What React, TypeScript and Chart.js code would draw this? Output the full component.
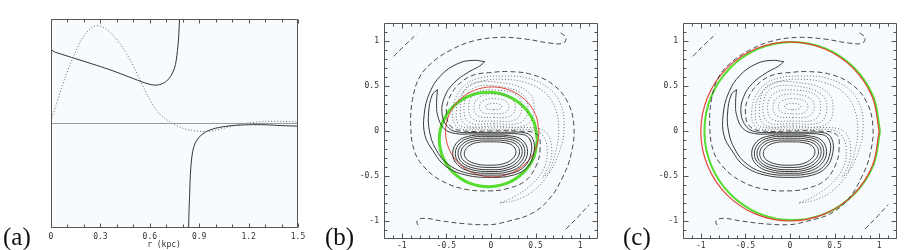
import React, { useEffect, useRef } from "react";
import { Chart, registerables } from "chart.js";

Chart.register(...registerables);

// ---------- Panel (a) data ----------
const A_X_TICKS = [0, 0.3, 0.6, 0.9, 1.2, 1.5];
const A_X_LABELS = ["0", "0.3", "0.6", "0.9", "1.2", "1.5"];
const A_X_MINOR = [0.1, 0.2, 0.4, 0.5, 0.7, 0.8, 1.0, 1.1, 1.3, 1.4];

const SOLID1_R = [0, 0.01, 0.03, 0.1, 0.2, 0.3, 0.4, 0.5, 0.55, 0.6, 0.63, 0.66, 0.69, 0.71, 0.73, 0.75, 0.76, 0.768, 0.775, 0.782];
const SOLID1_V = [0.72, 0.695, 0.68, 0.645, 0.595, 0.545, 0.49, 0.43, 0.4, 0.375, 0.367, 0.372, 0.392, 0.42, 0.46, 0.53, 0.6, 0.7, 0.82, 1.05];

const SOLID2_R = [0.835, 0.838, 0.842, 0.846, 0.852, 0.86, 0.875, 0.9, 0.93, 0.96, 1.0, 1.05, 1.1, 1.2, 1.3, 1.4, 1.5];
const SOLID2_V = [-1.05, -0.85, -0.68, -0.5, -0.37, -0.27, -0.19, -0.13, -0.09, -0.065, -0.045, -0.03, -0.02, -0.012, -0.012, -0.02, -0.025];

const DOTTED_R = [0, 0.03, 0.06, 0.09, 0.12, 0.15, 0.18, 0.21, 0.24, 0.27, 0.3, 0.33, 0.36, 0.39, 0.42, 0.45, 0.48, 0.51, 0.54, 0.57, 0.6, 0.63, 0.66, 0.69, 0.72, 0.75, 0.8, 0.85, 0.9, 0.95, 1.0, 1.05, 1.1, 1.15, 1.2, 1.3, 1.4, 1.5];
const DOTTED_V = [0.03, 0.17, 0.32, 0.46, 0.58, 0.69, 0.79, 0.86, 0.91, 0.935, 0.93, 0.91, 0.87, 0.82, 0.76, 0.69, 0.61, 0.52, 0.42, 0.32, 0.23, 0.15, 0.09, 0.05, 0.02, -0.01, -0.045, -0.065, -0.075, -0.075, -0.065, -0.045, -0.025, -0.01, 0.005, 0.02, 0.02, 0.015];

const ZERO_R = [0, 1.5];
const ZERO_V = [0, 0];

// ---------- Panels (b), (c) data ----------
const XY_TICKS = [-1, -0.5, 0, 0.5, 1];
const XY_MINOR = [-1.1, -0.9, -0.8, -0.7, -0.6, -0.4, -0.3, -0.2, -0.1, 0.1, 0.2, 0.3, 0.4, 0.6, 0.7, 0.8, 0.9, 1.1];

type P = [number, number];

const SOLID_S1: P[] = [[-0.01, -0.12], [-0.155, -0.128], [-0.26, -0.175], [-0.3, -0.25], [-0.265, -0.32], [-0.155, -0.368], [-0.01, -0.38], [0.135, -0.365], [0.24, -0.31], [0.28, -0.23], [0.24, -0.16], [0.135, -0.127], [-0.01, -0.12]];
const SOLID_S2: P[] = [[-0.01, -0.1], [-0.175, -0.108], [-0.295, -0.16], [-0.34, -0.25], [-0.3, -0.335], [-0.175, -0.39], [-0.01, -0.405], [0.155, -0.39], [0.275, -0.325], [0.32, -0.23], [0.275, -0.145], [0.155, -0.107], [-0.01, -0.1]];
const SOLID_S3: P[] = [[-0.01, -0.08], [-0.19, -0.088], [-0.32, -0.145], [-0.37, -0.25], [-0.325, -0.35], [-0.19, -0.413], [-0.01, -0.43], [0.17, -0.413], [0.3, -0.34], [0.35, -0.23], [0.3, -0.13], [0.17, -0.087], [-0.01, -0.08]];
const SOLID_S4: P[] = [[-0.01, -0.06], [-0.2, -0.068], [-0.345, -0.13], [-0.4, -0.25], [-0.35, -0.36], [-0.2, -0.433], [-0.01, -0.45], [0.18, -0.433], [0.325, -0.355], [0.38, -0.23], [0.325, -0.115], [0.18, -0.067], [-0.01, -0.06]];
const SOLID_S5: P[] = [[-0.01, -0.045], [-0.22, -0.052], [-0.37, -0.115], [-0.43, -0.25], [-0.375, -0.375], [-0.22, -0.452], [-0.01, -0.47], [0.2, -0.452], [0.35, -0.37], [0.41, -0.23], [0.35, -0.1], [0.2, -0.052], [-0.01, -0.045]];
const SOLID_B: P[] = [[-0.6, 0.46], [-0.66, 0.4], [-0.7, 0.2], [-0.69, 0.0], [-0.62, -0.2], [-0.48, -0.37], [-0.26, -0.47], [0.0, -0.49], [0.23, -0.47], [0.38, -0.39], [0.45, -0.24], [0.44, -0.1], [0.36, -0.04], [0.1, -0.032], [-0.2, -0.032], [-0.4, -0.028], [-0.53, 0.03], [-0.6, 0.18], [-0.61, 0.32], [-0.6, 0.46]];
const SOLID_A: P[] = [[-0.07, 0.77], [-0.2, 0.785], [-0.37, 0.75], [-0.56, 0.62], [-0.69, 0.42], [-0.75, 0.18], [-0.74, -0.05], [-0.65, -0.22], [-0.51, -0.39], [-0.28, -0.49], [0.0, -0.515], [0.25, -0.49], [0.41, -0.4], [0.48, -0.24], [0.47, -0.09], [0.39, -0.022], [0.15, -0.015], [-0.15, -0.015], [-0.38, -0.01], [-0.49, 0.05], [-0.55, 0.2], [-0.52, 0.38], [-0.42, 0.53], [-0.26, 0.65], [-0.13, 0.72], [-0.07, 0.77]];

const DOT_D1: P[] = [[0.03, 0.235], [0.1, 0.245], [0.12, 0.27], [0.1, 0.295], [0.03, 0.305], [-0.04, 0.295], [-0.06, 0.27], [-0.04, 0.245], [0.03, 0.235]];
const DOT_D2: P[] = [[0.03, 0.19], [0.15, 0.2], [0.2, 0.26], [0.17, 0.33], [0.03, 0.36], [-0.09, 0.335], [-0.13, 0.27], [-0.09, 0.205], [0.03, 0.19]];
const DOT_D3: P[] = [[0.03, 0.15], [0.2, 0.16], [0.27, 0.24], [0.23, 0.36], [0.04, 0.41], [-0.13, 0.38], [-0.19, 0.28], [-0.15, 0.17], [0.03, 0.15]];
const DOT_D4: P[] = [[0.03, 0.11], [0.26, 0.12], [0.34, 0.22], [0.3, 0.39], [0.05, 0.455], [-0.17, 0.425], [-0.25, 0.29], [-0.2, 0.13], [0.03, 0.11]];
const DOT_D5: P[] = [[0.03, 0.08], [0.32, 0.09], [0.41, 0.21], [0.36, 0.4], [0.06, 0.5], [-0.21, 0.47], [-0.3, 0.3], [-0.25, 0.1], [0.03, 0.08]];
const DOT_D6: P[] = [[0.03, 0.055], [0.38, 0.06], [0.48, 0.2], [0.42, 0.43], [0.08, 0.54], [-0.24, 0.51], [-0.34, 0.3], [-0.29, 0.07], [0.03, 0.055]];
const DOT_D: P[] = [[0.58, -0.52], [0.65, -0.45], [0.72, -0.25], [0.76, 0.0], [0.72, 0.25], [0.6, 0.43], [0.38, 0.54], [0.12, 0.575], [-0.1, 0.555], [-0.25, 0.49], [-0.36, 0.36], [-0.39, 0.2], [-0.37, 0.08], [-0.3, 0.04], [-0.05, 0.035], [0.25, 0.035], [0.52, 0.03], [0.63, -0.03], [0.68, -0.18], [0.66, -0.36], [0.58, -0.52]];
const DOT_C: P[] = [[0.1, -0.8], [0.27, -0.77], [0.47, -0.67], [0.65, -0.47], [0.77, -0.22], [0.82, 0.05], [0.78, 0.3], [0.64, 0.48], [0.4, 0.59], [0.12, 0.61], [-0.12, 0.59], [-0.28, 0.52], [-0.39, 0.38], [-0.43, 0.2], [-0.4, 0.06], [-0.33, 0.02], [-0.1, 0.015], [0.2, 0.015], [0.47, 0.01], [0.58, -0.05], [0.63, -0.2], [0.6, -0.4], [0.47, -0.58], [0.28, -0.72], [0.1, -0.8]];

const DASH_S: P[] = [[0.78, 1.09], [0.84, 1.04], [0.81, 0.975], [0.64, 0.98], [0.4, 1.02], [0.1, 1.04], [-0.2, 1.0], [-0.45, 0.9], [-0.65, 0.77], [-0.8, 0.6], [-0.88, 0.35], [-0.9, 0.05], [-0.86, -0.22], [-0.75, -0.4], [-0.56, -0.55], [-0.3, -0.645], [0.0, -0.665], [0.2, -0.635], [0.39, -0.55], [0.51, -0.38], [0.55, -0.2], [0.52, -0.04], [0.3, 0.0], [0.0, 0.0], [-0.3, 0.0], [-0.45, 0.05], [-0.5, 0.2], [-0.47, 0.36], [-0.36, 0.52], [-0.2, 0.62], [0.0, 0.65], [0.2, 0.66], [0.45, 0.63], [0.69, 0.52], [0.86, 0.32], [0.93, 0.05], [0.9, -0.25], [0.81, -0.5], [0.65, -0.76], [0.45, -0.92], [0.2, -1.0], [0.0, -1.04], [-0.3, -1.03], [-0.55, -1.0], [-0.75, -0.97], [-0.83, -1.0], [-0.8, -1.08]];
const DASH_TL: P[] = [[-1.09, 0.83], [-0.97, 0.95], [-0.83, 1.08]];
const DASH_BR: P[] = [[0.84, -1.09], [0.97, -0.96], [1.1, -0.82]];

const GREEN_B: P[] = [[0.52, -0.095], [0.478, 0.106], [0.359, 0.276], [0.181, 0.39], [-0.03, 0.43], [-0.241, 0.39], [-0.419, 0.276], [-0.538, 0.106], [-0.58, -0.095], [-0.538, -0.296], [-0.419, -0.466], [-0.241, -0.58], [-0.03, -0.62], [0.181, -0.58], [0.359, -0.466], [0.478, -0.296], [0.52, -0.095]];
const RED_B: P[] = [[0.54, -0.01], [0.5, 0.182], [0.386, 0.344], [0.216, 0.452], [0.015, 0.49], [-0.186, 0.452], [-0.356, 0.344], [-0.47, 0.182], [-0.51, -0.01], [-0.47, -0.202], [-0.356, -0.364], [-0.186, -0.472], [0.015, -0.51], [0.216, -0.472], [0.386, -0.364], [0.5, -0.202], [0.54, -0.01]];
const GREEN_C: P[] = [[1.01, 0], [0.935, 0.379], [0.721, 0.7], [0.402, 0.915], [0.025, 0.99], [-0.352, 0.915], [-0.671, 0.7], [-0.885, 0.379], [-0.96, 0], [-0.885, -0.379], [-0.671, -0.7], [-0.352, -0.915], [0.025, -0.99], [0.402, -0.915], [0.721, -0.7], [0.935, -0.379], [1.01, 0]];
const RED_C: P[] = [[1.0, -0.005], [0.924, 0.376], [0.707, 0.699], [0.383, 0.914], [0, 0.99], [-0.383, 0.914], [-0.707, 0.699], [-0.924, 0.376], [-1.0, -0.005], [-0.924, -0.386], [-0.707, -0.709], [-0.383, -0.924], [0, -1.0], [0.383, -0.924], [0.707, -0.709], [0.924, -0.386], [1.0, -0.005]];

// ---------- styling ----------
const TICK_FONT = { family: "'DejaVu Sans Mono', monospace", size: 8 };
const TICK_COLOR = "#333";
const FRAME_COLOR = "#555";
const PLOT_BG = "#f8fbfd";
const C_SOLID = "#3a3a3a";
const C_DASH = "#4a4a4a";
const C_DOT = "#6e6e6e";
const C_GREEN = "#55dd30";
const C_RED = "#e2453c";

const framePlugin = {
  id: "frameTicks",
  beforeDraw(chart: any, _a: any, opts: any) {
    const { ctx, chartArea: a } = chart;
    ctx.save();
    ctx.fillStyle = opts.bg;
    ctx.fillRect(a.left, a.top, a.right - a.left, a.bottom - a.top);
    ctx.restore();
  },
  afterDatasetsDraw(chart: any, _a: any, opts: any) {
    const { ctx, chartArea: a, scales } = chart;
    const xs = scales.x;
    const ys = scales.y;
    const L = Math.round(a.left) + 0.5;
    const R = Math.round(a.right) - 0.5;
    const T = Math.round(a.top) + 0.5;
    const B = Math.round(a.bottom) - 0.5;
    ctx.save();
    ctx.strokeStyle = opts.color;
    ctx.lineWidth = 1;
    ctx.beginPath();
    ctx.rect(L, T, R - L, B - T);
    ctx.stroke();
    ctx.beginPath();
    const seg = (x1: number, y1: number, x2: number, y2: number) => {
      ctx.moveTo(x1, y1);
      ctx.lineTo(x2, y2);
    };
    const doX = (vals: number[], len: number) =>
      vals.forEach((v) => {
        const p = Math.round(xs.getPixelForValue(v)) + 0.5;
        seg(p, B, p, B - len);
        seg(p, T, p, T + len);
      });
    const doY = (vals: number[], len: number) =>
      vals.forEach((v) => {
        const p = Math.round(ys.getPixelForValue(v)) + 0.5;
        seg(L, p, L + len, p);
        seg(R, p, R - len, p);
      });
    doX(opts.xMajor || [], opts.majorLen);
    doX(opts.xMinor || [], opts.minorLen);
    if (opts.yTicks) {
      doY(opts.yMajor || [], opts.majorLen);
      doY(opts.yMinor || [], opts.minorLen);
    }
    ctx.stroke();
    ctx.restore();
  },
};

const toXY = (pts: P[]) => pts.map(([x, y]) => ({ x, y }));
const zipXY = (xs: number[], ys: number[]) => xs.map((x, i) => ({ x, y: ys[i] }));

const ds = (data: any[], color: string, width: number, dash: number[] = [], tension = 0.4) => ({
  data,
  showLine: true,
  borderColor: color,
  borderWidth: width,
  borderDash: dash,
  pointRadius: 0,
  pointHoverRadius: 0,
  fill: false,
  tension,
});

const baseScale = (min: number, max: number, ticks: number[], labels: string[] | null, pad: number) => ({
  type: "linear",
  min,
  max,
  grid: { display: false, drawTicks: false },
  border: { display: false },
  afterBuildTicks: (s: any) => {
    s.ticks = ticks.map((v) => ({ value: v }));
  },
  ticks: {
    font: TICK_FONT,
    color: TICK_COLOR,
    padding: pad,
    maxRotation: 0,
    autoSkip: false,
    callback: (v: any, i: number) => (labels ? labels[i] : String(v)),
  },
});

function configA(): any {
  return {
    type: "scatter",
    data: {
      datasets: [
        ds(zipXY(ZERO_R, ZERO_V), "#9a9a9a", 1, [], 0),
        ds(zipXY(DOTTED_R, DOTTED_V), "#666", 1, [1, 2], 0.3),
        ds(zipXY(SOLID1_R, SOLID1_V), "#333", 1, [], 0.3),
        ds(zipXY(SOLID2_R, SOLID2_V), "#333", 1, [], 0.3),
      ],
    },
    options: {
      responsive: false,
      animation: false,
      events: [],
      layout: { padding: { left: 51, top: 19, right: 12, bottom: 0 } },
      scales: {
        x: { ...baseScale(0, 1.5, A_X_TICKS, A_X_LABELS, 4), afterFit: (s: any) => { s.height = 22; } },
        y: { type: "linear", min: -1, max: 1, display: false },
      },
      plugins: {
        legend: { display: false },
        tooltip: { enabled: false },
        frameTicks: { bg: PLOT_BG, color: FRAME_COLOR, xMajor: A_X_TICKS, xMinor: A_X_MINOR, majorLen: 4, minorLen: 3, yTicks: false },
      },
    },
    plugins: [framePlugin],
  };
}

function contourDatasets(circles: any[]) {
  return [
    ds(toXY(DASH_TL), C_DASH, 1, [5, 3]),
    ds(toXY(DASH_BR), C_DASH, 1, [5, 3]),
    ds(toXY(DASH_S), C_DASH, 1, [5, 3]),
    ds(toXY(DOT_D1), C_DOT, 1, [1, 2]),
    ds(toXY(DOT_D2), C_DOT, 1, [1, 2]),
    ds(toXY(DOT_D3), C_DOT, 1, [1, 2]),
    ds(toXY(DOT_D4), C_DOT, 1, [1, 2]),
    ds(toXY(DOT_D5), C_DOT, 1, [1, 2]),
    ds(toXY(DOT_D6), C_DOT, 1, [1, 2]),
    ds(toXY(DOT_D), C_DOT, 1, [1, 2]),
    ds(toXY(DOT_C), C_DOT, 1, [1, 2]),
    ds(toXY(SOLID_S1), C_SOLID, 1),
    ds(toXY(SOLID_S2), C_SOLID, 1),
    ds(toXY(SOLID_S3), C_SOLID, 1),
    ds(toXY(SOLID_S4), C_SOLID, 1),
    ds(toXY(SOLID_S5), C_SOLID, 1),
    ds(toXY(SOLID_B), C_SOLID, 1),
    ds(toXY(SOLID_A), C_SOLID, 1),
    ...circles,
  ];
}

function configXY(yWidth: number, padRight: number, circles: any[]): any {
  return {
    type: "scatter",
    data: { datasets: contourDatasets(circles) },
    options: {
      responsive: false,
      animation: false,
      events: [],
      layout: { padding: { left: 0, top: 23, right: padRight, bottom: 0 } },
      scales: {
        x: { ...baseScale(-1.2, 1.2, XY_TICKS, null, 2), afterFit: (s: any) => { s.height = 11; } },
        y: { ...baseScale(-1.2, 1.2, XY_TICKS, null, 5), afterFit: (s: any) => { s.width = yWidth; } },
      },
      plugins: {
        legend: { display: false },
        tooltip: { enabled: false },
        frameTicks: {
          bg: PLOT_BG, color: FRAME_COLOR,
          xMajor: XY_TICKS, xMinor: XY_MINOR, yMajor: XY_TICKS, yMinor: XY_MINOR,
          majorLen: 5, minorLen: 3, yTicks: true,
        },
      },
    },
    plugins: [framePlugin],
  };
}

function ChartPanel({ left, width, make }: { left: number; width: number; make: () => any }) {
  const ref = useRef<HTMLCanvasElement>(null);
  useEffect(() => {
    const c = new Chart(ref.current as HTMLCanvasElement, make());
    return () => c.destroy();
  }, []);
  return (
    <canvas
      ref={ref}
      width={width}
      height={250}
      style={{ position: "absolute", left, top: 0, width, height: 250 }}
    />
  );
}

const panelLabel = (left: number): React.CSSProperties => ({
  position: "absolute",
  left,
  top: 224,
  fontFamily: "'Liberation Serif', serif",
  fontSize: 25,
  lineHeight: "25px",
  color: "#111",
  whiteSpace: "nowrap",
});

export default function App() {
  return (
    <div style={{ position: "absolute", left: 0, top: 0, width: 906, height: 250, background: "#fff", overflow: "hidden" }}>
      <ChartPanel left={0} width={310} make={configA} />
      <ChartPanel
        left={320}
        width={290}
        make={() => configXY(64, 12, [ds(toXY(RED_B), C_RED, 1, [], 0.35), ds(toXY(GREEN_B), C_GREEN, 3, [], 0.35)])}
      />
      <ChartPanel
        left={610}
        width={296}
        make={() => configXY(73, 9, [ds(toXY(RED_C), C_RED, 1.2, [], 0.35), ds(toXY(GREEN_C), C_GREEN, 2, [], 0.35)])}
      />
      <div style={panelLabel(3)}>(a)</div>
      <div style={panelLabel(325)}>(b)</div>
      <div style={panelLabel(623)}>(c)</div>
      <div
        style={{
          position: "absolute",
          left: 164,
          top: 241,
          transform: "translateX(-50%)",
          fontFamily: "'DejaVu Sans Mono', monospace",
          fontSize: 8,
          lineHeight: "8px",
          color: "#333",
          whiteSpace: "nowrap",
        }}
      >
        r (kpc)
      </div>
    </div>
  );
}
